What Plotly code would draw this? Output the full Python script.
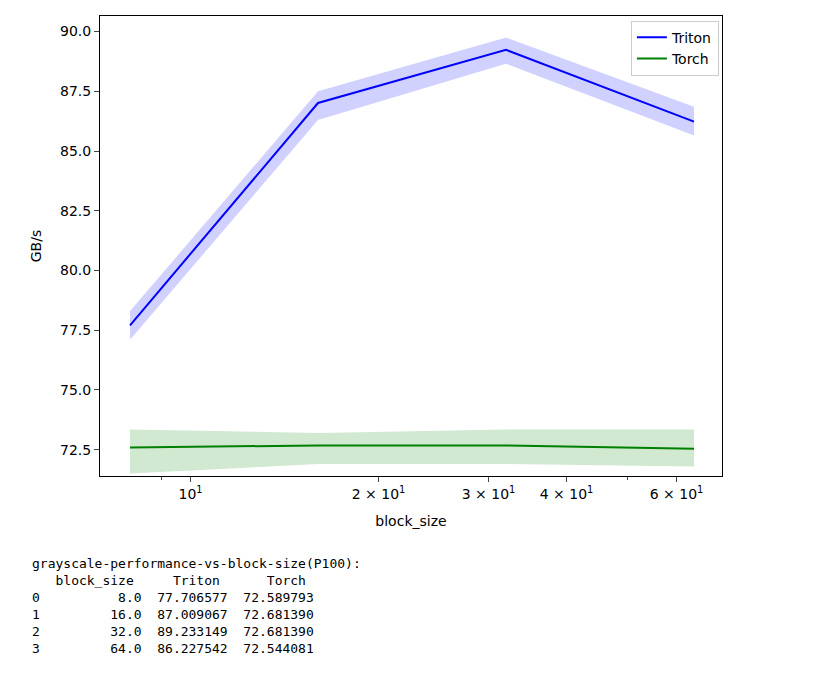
import plotly.graph_objects as go

block_size = [8.0, 16.0, 32.0, 64.0]
triton = [77.706577, 87.009067, 89.233149, 86.227542]
triton_lo = [77.1, 86.3, 88.65, 85.65]
triton_hi = [78.3, 87.5, 89.75, 86.85]
torch = [72.589793, 72.681390, 72.681390, 72.544081]
torch_lo = [71.5, 71.9, 71.9, 71.8]
torch_hi = [73.35, 73.2, 73.35, 73.35]

tick_vals = [10, 20, 30, 40, 60]
tick_text = ["10<sup>1</sup>", "2 × 10<sup>1</sup>", "3 × 10<sup>1</sup>",
             "4 × 10<sup>1</sup>", "6 × 10<sup>1</sup>"]

fig = go.Figure()


def add_series(y, lo, hi, color, fill, name):
    fig.add_trace(go.Scatter(x=block_size + block_size[::-1], y=hi + lo[::-1],
                             mode="lines", fill="toself", fillcolor=fill,
                             line=dict(width=0), hoverinfo="skip", showlegend=False))
    fig.add_trace(go.Scatter(x=block_size, y=y, mode="lines", name=name,
                             line=dict(color=color, width=2)))


add_series(triton, triton_lo, triton_hi, "blue", "rgba(0,0,255,0.18)", "Triton")
add_series(torch, torch_lo, torch_hi, "green", "rgba(0,128,0,0.18)", "Torch")

table = ("grayscale-performance-vs-block-size(P100):<br>"
         "&nbsp;&nbsp;&nbsp;block_size&nbsp;&nbsp;&nbsp;&nbsp;&nbsp;Triton&nbsp;&nbsp;&nbsp;&nbsp;&nbsp;&nbsp;Torch<br>")
for i, (b, t, c) in enumerate(zip(block_size, triton, torch)):
    table += f"{i}{'&nbsp;' * (13 - len(f'{b:.1f}'))}{b:.1f}&nbsp;&nbsp;{t:.6f}&nbsp;&nbsp;{c:.6f}<br>"

fig.add_annotation(text=table, xref="paper", yref="paper", x=-0.1125, y=-0.17,
                   xanchor="left", yanchor="top", showarrow=False, align="left",
                   font=dict(family="DejaVu Sans Mono", size=13, color="black"))

fig.update_layout(
    width=822, height=692,
    margin=dict(l=92, r=108, t=8, b=224),
    plot_bgcolor="white", paper_bgcolor="white",
    font=dict(family="DejaVu Sans", size=13, color="black"),
    legend=dict(x=0.995, y=0.99, xanchor="right", yanchor="top",
                bordercolor="#cccccc", borderwidth=1, font=dict(size=14)),
    xaxis=dict(type="log", range=[0.855, 1.851], tickvals=tick_vals, ticktext=tick_text,
               showgrid=False, showline=True, linecolor="black", mirror=True,
               ticks="outside", tickfont=dict(size=14),
               title=dict(text="block_size", font=dict(size=14)),
               minor=dict(tickvals=[9, 50], ticks="outside", ticklen=3)),
    yaxis=dict(range=[71.4, 90.65], tickvals=[72.5, 75, 77.5, 80, 82.5, 85, 87.5, 90],
               tickformat=".1f", showgrid=False, showline=True, linecolor="black",
               mirror=True, ticks="outside", tickfont=dict(size=14),
               title=dict(text="GB/s", font=dict(size=14))),
)

fig.write_html("out.html")
